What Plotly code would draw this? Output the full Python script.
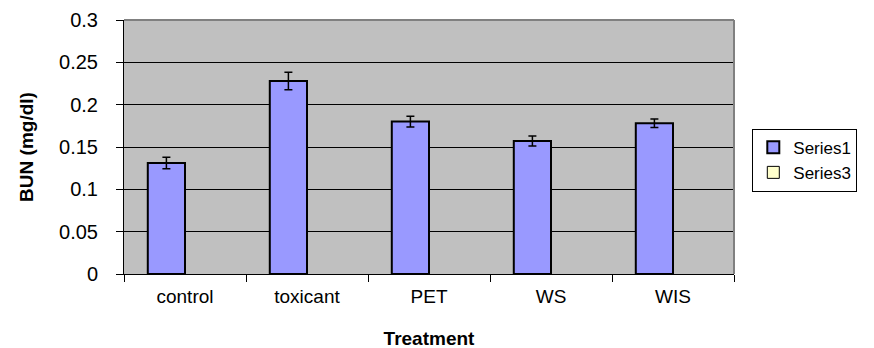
import plotly.graph_objects as go

categories = ["control", "toxicant", "PET", "WS", "WIS"]
series1 = [0.131, 0.228, 0.180, 0.157, 0.178]
series1_err = [0.0068, 0.0104, 0.0063, 0.0059, 0.0050]
series3 = [None, None, None, None, None]
y_ticks = [0, 0.05, 0.1, 0.15, 0.2, 0.25, 0.3]
y_tick_labels = ["0", "0.05", "0.1", "0.15", "0.2", "0.25", "0.3"]

font_family = "Liberation Sans, Arial, sans-serif"

fig = go.Figure()
fig.add_trace(go.Bar(
    x=categories, y=series1, name="Series1",
    marker=dict(color="#9999FF", line=dict(color="black", width=2)),
    error_y=dict(type="data", array=series1_err, visible=True,
                 color="black", thickness=1.5, width=4),
))
fig.add_trace(go.Bar(
    x=categories, y=series3, name="Series3",
    marker=dict(color="#FFFFCC", line=dict(color="black", width=1)),
))

fig.update_layout(
    width=874, height=348,
    margin=dict(l=116, r=148, t=12, b=82, autoexpand=False),
    paper_bgcolor="white",
    plot_bgcolor="#C0C0C0",
    barmode="group",
    bargap=0.39,
    bargroupgap=0,
    font=dict(family=font_family, size=18, color="black"),
    showlegend=True,
    legend=dict(
        x=1.03, y=0.572, xanchor="left", yanchor="top",
        bordercolor="black", borderwidth=1, bgcolor="white",
        font=dict(size=17, family=font_family),
        itemwidth=30,
        tracegroupgap=0,
    ),
    xaxis=dict(
        title=dict(text="<b>Treatment</b>", font=dict(size=19), standoff=25),
        automargin=False,
        showline=True, linecolor="black", linewidth=1,
        ticks="outside", tickson="boundaries", ticklen=7, tickcolor="black",
        ticklabelstandoff=5,
        tickfont=dict(size=19),
        showgrid=False,
    ),
    yaxis=dict(
        title=dict(text="<b>BUN (mg/dl)</b>", font=dict(size=19), standoff=20),
        automargin=False,
        range=[0, 0.3],
        tickvals=y_ticks, ticktext=y_tick_labels,
        showline=True, linecolor="black", linewidth=1,
        ticks="outside", ticklen=7, tickcolor="black",
        ticklabelstandoff=14,
        tickfont=dict(size=20),
        showgrid=True, gridcolor="black", gridwidth=1,
        zeroline=False,
    ),
    shapes=[
        dict(type="line", xref="paper", yref="paper", x0=0, x1=1, y0=1, y1=1,
             line=dict(color="#808080", width=2)),
        dict(type="line", xref="paper", yref="paper", x0=1, x1=1, y0=0, y1=1,
             line=dict(color="#808080", width=2)),
    ],
)

fig.write_html("out.html")
